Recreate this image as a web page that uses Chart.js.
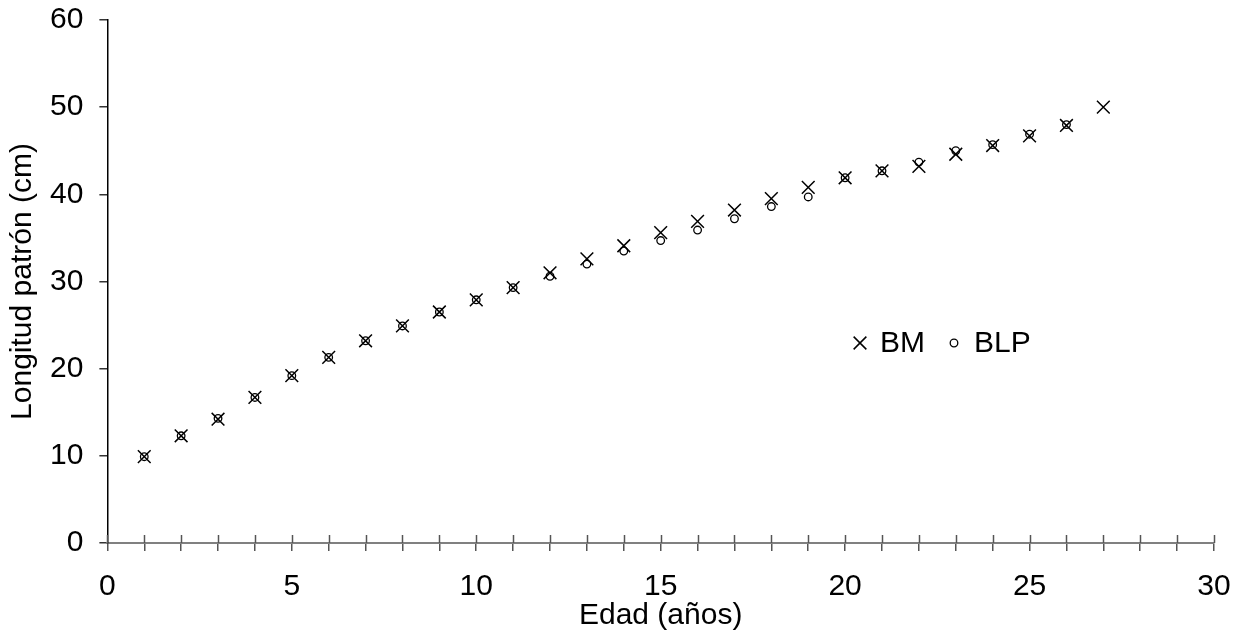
<!DOCTYPE html>
<html>
<head>
<meta charset="utf-8">
<script src="https://cdn.jsdelivr.net/npm/chart.js@4/dist/chart.umd.min.js"></script>
<style>
  html, body { margin: 0; padding: 0; background: #fff; }
  #wrap { width: 1243px; height: 637px; }
</style>
</head>
<body>
<div id="wrap"><canvas id="chart" width="1243" height="637"></canvas></div>
<script>
const edades = [1, 2, 3, 4, 5, 6, 7, 8, 9, 10, 11, 12, 13, 14, 15, 16, 17, 18, 19, 20, 21, 22, 23, 24, 25, 26, 27];
const longitudBM = [9.9, 12.3, 14.2, 16.7, 19.2, 21.3, 23.2, 24.9, 26.5, 27.9, 29.3, 31.0, 32.6, 34.1, 35.6, 36.9, 38.2, 39.5, 40.8, 41.9, 42.7, 43.2, 44.6, 45.6, 46.7, 47.9, 50.0];
const longitudBLP = [9.9, 12.3, 14.3, 16.7, 19.2, 21.3, 23.2, 24.9, 26.5, 27.9, 29.3, 30.6, 32.0, 33.5, 34.7, 35.9, 37.2, 38.6, 39.7, 41.9, 42.7, 43.7, 45.0, 45.7, 46.9, 48.0, null];
const serieNombres = ['BM', 'BLP'];

const FONT = '"Liberation Sans", Arial, sans-serif';
const FSIZE = 30;

const toPoints = (vals) => edades
  .map((x, i) => ({ x, y: vals[i] }))
  .filter((p) => p.y !== null);

// ticks that cross the x axis line, plus the legend inside the plot
const extras = {
  id: 'extras',
  afterDraw(chart) {
    const { ctx, chartArea, scales } = chart;
    const xs = scales.x;
    ctx.save();
    ctx.strokeStyle = '#555';
    ctx.lineWidth = 1.5;
    xs.ticks.forEach((t) => {
      const px = Math.round(xs.getPixelForValue(t.value)) + 0.5;
      ctx.beginPath();
      ctx.moveTo(px, chartArea.bottom - 8);
      ctx.lineTo(px, chartArea.bottom);
      ctx.stroke();
    });

    // legend
    const ly = 343;
    const items = [
      { x: 860, style: 'crossRot', r: 9, w: 1.5 },
      { x: 954, style: 'circle', r: 3.8, w: 1.3 },
    ];
    ctx.font = FSIZE + 'px ' + FONT;
    ctx.textBaseline = 'middle';
    items.forEach((it, i) => {
      ctx.strokeStyle = '#000';
      ctx.fillStyle = 'rgba(0,0,0,0)';
      ctx.lineWidth = it.w;
      Chart.helpers.drawPoint(ctx, { pointStyle: it.style, radius: it.r, rotation: 0, borderWidth: it.w }, it.x, ly);
      ctx.fillStyle = '#000';
      ctx.fillText(serieNombres[i], it.x + 20, ly + 1);
    });
    ctx.restore();
  },
};

new Chart(document.getElementById('chart'), {
  type: 'scatter',
  data: {
    datasets: [
      {
        label: serieNombres[0],
        data: toPoints(longitudBM),
        pointStyle: 'crossRot',
        pointRadius: 9,
        pointHoverRadius: 9,
        borderColor: '#000',
        backgroundColor: '#000',
        pointBorderWidth: 1.5,
      },
      {
        label: serieNombres[1],
        data: toPoints(longitudBLP),
        pointStyle: 'circle',
        pointRadius: 3.8,
        pointHoverRadius: 3.8,
        borderColor: '#000',
        backgroundColor: 'rgba(0,0,0,0)',
        pointBorderWidth: 1.3,
      },
    ],
  },
  options: {
    responsive: false,
    animation: false,
    events: [],
    layout: { padding: { top: 20, right: 29, left: 0, bottom: 0 } },
    plugins: {
      legend: { display: false },
      tooltip: { enabled: false },
    },
    scales: {
      x: {
        type: 'linear',
        min: 0,
        max: 30,
        afterFit: (s) => { s.paddingLeft = 0; s.paddingRight = 0; },
        border: { color: '#808080', width: 2 },
        grid: { drawOnChartArea: false, drawTicks: true, tickLength: 8, color: '#555', lineWidth: 1.5 },
        ticks: {
          stepSize: 1,
          autoSkip: false,
          maxRotation: 0,
          padding: 18,
          color: '#000',
          font: { family: FONT, size: FSIZE },
          callback: (v) => (v % 5 === 0 ? String(v) : ''),
        },
        title: {
          display: true,
          text: 'Edad (años)',
          color: '#000',
          font: { family: FONT, size: FSIZE },
          padding: { top: -25, bottom: 3 },
        },
      },
      y: {
        min: 0,
        max: 60,
        afterFit: (s) => { s.paddingTop = 0; s.paddingBottom = 0; },
        border: { color: '#000', width: 1.5 },
        grid: { drawOnChartArea: false, drawTicks: true, tickLength: 8, color: '#333', lineWidth: 1.5 },
        ticks: {
          stepSize: 10,
          padding: 16,
          color: '#000',
          font: { family: FONT, size: FSIZE },
        },
        title: {
          display: true,
          text: 'Longitud patrón (cm)',
          color: '#000',
          font: { family: FONT, size: FSIZE },
          padding: { top: 5, bottom: -7 },
        },
      },
    },
  },
  plugins: [extras],
});
</script>
</body>
</html>
